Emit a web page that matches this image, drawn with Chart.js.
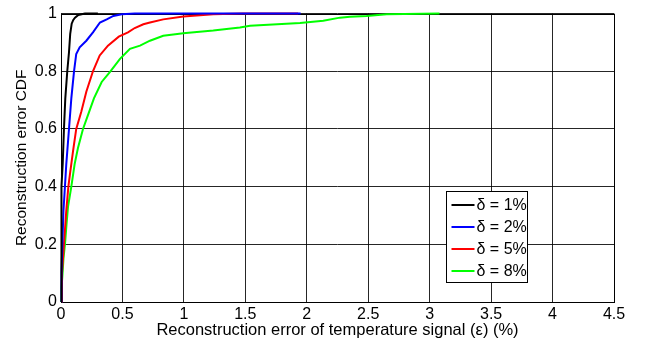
<!DOCTYPE html>
<html>
<head>
<meta charset="utf-8">
<script src="https://cdn.jsdelivr.net/npm/chart.js@4.4.0/dist/chart.umd.min.js"></script>
<style>
  html, body { margin: 0; padding: 0; background: #ffffff; }
  #wrap { width: 648px; height: 345px; }
</style>
</head>
<body>
<div id="wrap"><canvas id="c" width="648" height="345"></canvas></div>
<script>
// Empirical CDFs of the reconstruction error for four sampling ratios δ
const seriesLabels = ['δ = 1%', 'δ = 2%', 'δ = 5%', 'δ = 8%'];
const seriesColors = ['#000000', '#0000ff', '#ff0000', '#00ff00'];

const err1 = [0, 0.001, 0.002, 0.004, 0.008, 0.014, 0.024, 0.035, 0.051, 0.065, 0.075, 0.087, 0.1, 0.114, 0.141, 0.195, 0.3];
const cdf1 = [0, 0.1, 0.2, 0.28, 0.4, 0.48, 0.6, 0.706, 0.8, 0.866, 0.93, 0.965, 0.978, 0.986, 0.995, 1.0, 1.0];

const err2 = [0, 0.004, 0.011, 0.02, 0.032, 0.043, 0.065, 0.084, 0.106, 0.124, 0.152, 0.206, 0.26, 0.317, 0.372, 0.426, 0.494, 0.6, 1.95];
const cdf2 = [0, 0.1, 0.2, 0.317, 0.4, 0.478, 0.6, 0.706, 0.8, 0.86, 0.883, 0.906, 0.935, 0.969, 0.98, 0.992, 0.998, 1.0, 1.0];

const err3 = [0, 0.008, 0.024, 0.043, 0.06, 0.075, 0.098, 0.124, 0.165, 0.206, 0.26, 0.315, 0.382, 0.47, 0.545, 0.6, 0.67, 0.724, 0.832, 0.995, 1.239, 1.483, 1.93];
const cdf3 = [0, 0.1, 0.2, 0.317, 0.4, 0.45, 0.523, 0.6, 0.66, 0.729, 0.8, 0.855, 0.889, 0.92, 0.935, 0.95, 0.963, 0.969, 0.98, 0.99, 0.998, 1.0, 1.0];

const err4 = [0, 0.004, 0.011, 0.02, 0.033, 0.045, 0.057, 0.084, 0.111, 0.138, 0.179, 0.215, 0.268, 0.331, 0.399, 0.48, 0.561, 0.643, 0.724, 0.832, 0.995, 1.239, 1.456, 1.538, 1.945, 2.134, 2.27, 2.351, 2.487, 2.65, 3.08];
const cdf4 = [0, 0.05, 0.089, 0.15, 0.203, 0.27, 0.33, 0.4, 0.478, 0.534, 0.6, 0.643, 0.706, 0.763, 0.798, 0.843, 0.878, 0.889, 0.906, 0.923, 0.932, 0.941, 0.952, 0.958, 0.967, 0.975, 0.986, 0.989, 0.992, 0.998, 1.0];

const xTicks = [0, 0.5, 1, 1.5, 2, 2.5, 3, 3.5, 4, 4.5];
const yTicks = [0, 0.2, 0.4, 0.6, 0.8, 1];

const xTitle = 'Reconstruction error of temperature signal (ε) (%)';
const yTitle = 'Reconstruction error CDF';

const FONT = '"Liberation Sans", Arial, Helvetica, sans-serif';

const errs = [err1, err2, err3, err4];
const cdfs = [cdf1, cdf2, cdf3, cdf4];

const datasets = seriesLabels.map((label, i) => ({
  label,
  data: errs[i].map((x, k) => ({ x, y: cdfs[i][k] })),
  borderColor: seriesColors[i],
  backgroundColor: seriesColors[i],
  borderWidth: 2,
  pointRadius: 0,
  showLine: true,
  tension: 0,
  clip: false
}));

const fmt = v => String(Number(v.toFixed(2)));

// Axes box, drawn under the curves
const boxPlugin = {
  id: 'axesBox',
  beforeDatasetsDraw(chart) {
    const { ctx, chartArea: a } = chart;
    ctx.save();
    ctx.strokeStyle = '#000';
    ctx.lineWidth = 1;
    ctx.strokeRect(Math.round(a.left) + 0.5, Math.round(a.top) + 0.5,
                   Math.round(a.right - a.left), Math.round(a.bottom - a.top));
    ctx.restore();
  }
};

// Boxed legend in the lower right of the plot area
const legendPlugin = {
  id: 'boxLegend',
  afterDatasetsDraw(chart) {
    const { ctx, chartArea: a } = chart;
    const x0 = Math.round(a.right) - 167.5, y0 = Math.round(a.top) + 177.5;
    const w = 81, h = 91;
    ctx.save();
    ctx.fillStyle = '#fff';
    ctx.fillRect(x0, y0, w, h);
    ctx.strokeStyle = '#000';
    ctx.lineWidth = 1;
    ctx.strokeRect(x0, y0, w, h);
    ctx.font = '16px ' + FONT;
    ctx.textBaseline = 'middle';
    ctx.textAlign = 'left';
    chart.data.datasets.forEach((ds, i) => {
      const yy = y0 + 13.5 + i * 22;
      ctx.strokeStyle = ds.borderColor;
      ctx.lineWidth = 2;
      ctx.beginPath();
      ctx.moveTo(x0 + 5, yy);
      ctx.lineTo(x0 + 28, yy);
      ctx.stroke();
      ctx.fillStyle = '#000';
      ctx.fillText(ds.label, x0 + 30, yy + 1);
    });
    ctx.restore();
  }
};

new Chart(document.getElementById('c'), {
  type: 'scatter',
  data: { datasets },
  options: {
    responsive: false,
    animation: false,
    devicePixelRatio: 1,
    layout: { padding: { left: 0, right: 34, top: 11, bottom: 0 } },
    plugins: {
      legend: { display: false },
      tooltip: { enabled: false }
    },
    scales: {
      x: {
        type: 'linear',
        min: 0,
        max: 4.5,
        afterBuildTicks(scale) { scale.ticks = xTicks.map(v => ({ value: v })); },
        afterFit(scale) { scale.height = 43; },
        grid: { color: 'rgba(0,0,0,0.85)', lineWidth: 1, drawTicks: false },
        border: { display: false },
        ticks: {
          color: '#000',
          font: { family: FONT, size: 16 },
          padding: 3,
          maxRotation: 0,
          autoSkip: false,
          callback: v => fmt(v)
        },
        title: {
          display: true,
          text: xTitle,
          color: '#000',
          font: { family: FONT, size: 16.5 },
          padding: { top: 0, bottom: 5 }
        }
      },
      y: {
        type: 'linear',
        min: 0,
        max: 1,
        afterBuildTicks(scale) { scale.ticks = yTicks.map(v => ({ value: v })); },
        afterFit(scale) { scale.width = 61; },
        grid: { color: 'rgba(0,0,0,0.85)', lineWidth: 1, drawTicks: false },
        border: { display: false },
        ticks: {
          color: '#000',
          font: { family: FONT, size: 16 },
          padding: 4,
          autoSkip: false,
          callback: v => fmt(v)
        },
        title: {
          display: true,
          text: yTitle,
          color: '#000',
          font: { family: FONT, size: 15.5 },
          padding: { top: 12, bottom: 0 }
        }
      }
    }
  },
  plugins: [boxPlugin, legendPlugin]
});
</script>
</body>
</html>
